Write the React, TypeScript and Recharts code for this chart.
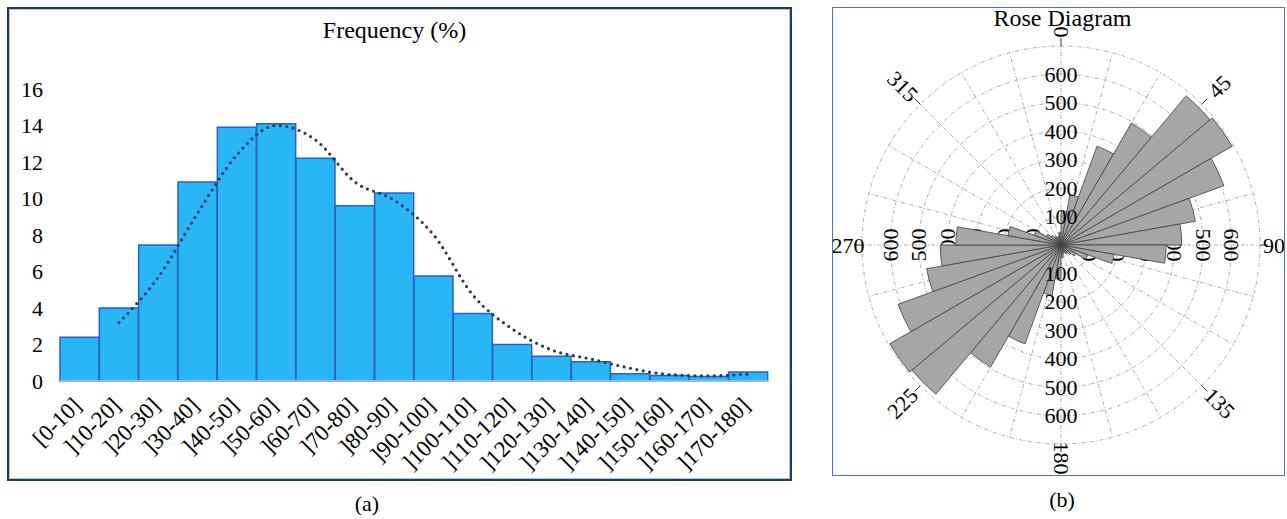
import React from "react";
import {
  ComposedChart,
  Bar,
  Line,
  XAxis,
  YAxis,
  RadialBarChart,
  RadialBar,
  PolarGrid,
  PolarAngleAxis,
  PolarRadiusAxis,
} from "recharts";

const FONT = '"Liberation Serif", "Times New Roman", Times, serif';

// ---- (a) frequency histogram ----
const classes = [
  "[0-10]", "]10-20]", "]20-30]", "]30-40]", "]40-50]", "]50-60]",
  "]60-70]", "]70-80]", "]80-90]", "]90-100]", "]100-110]", "]110-120]",
  "]120-130]", "]130-140]", "]140-150]", "]150-160]", "]160-170]", "]170-180]",
];
const frequency = [2.4, 4.0, 7.45, 10.9, 13.9, 14.1, 12.2, 9.6, 10.3, 5.75, 3.7, 2.0, 1.35, 1.05, 0.4, 0.3, 0.25, 0.5];
// dotted trend (2-period moving average)
const trend = [null, 3.2, 5.7, 9.2, 12.4, 14.0, 13.2, 10.9, 9.9, 8.0, 4.7, 2.85, 1.7, 1.2, 0.7, 0.35, 0.28, 0.38];
const freqTicks = [0, 2, 4, 6, 8, 10, 12, 14, 16];

// ---- (b) rose diagram, 10 degree bins ----
// recharts draws each centric petal one band counter-clockwise of its tick,
// so the list starts with the 350-360 bin to land 0-10 just right of north
const roseBins = [
  "350-360", "0-10", "10-20", "20-30", "30-40", "40-50", "50-60", "60-70", "70-80", "80-90",
  "90-100", "100-110", "110-120", "120-130", "130-140", "140-150", "150-160", "160-170", "170-180",
  "180-190", "190-200", "200-210", "210-220", "220-230", "230-240", "240-250", "250-260", "260-270",
  "270-280", "280-290", "290-300", "300-310", "310-320", "320-330", "330-340", "340-350",
];
const roseStart = [
  350, 0, 10, 20, 30, 40, 50, 60, 70, 80,
  90, 100, 110, 120, 130, 140, 150, 160, 170,
  180, 190, 200, 210, 220, 230, 240, 250, 260,
  270, 280, 290, 300, 310, 320, 330, 340,
];
const roseCounts = [
  45, 120, 180, 370, 495, 685, 695, 610, 480, 425,
  370, 190, 100, 60, 45, 35, 30, 30, 45,
  120, 180, 370, 495, 685, 695, 610, 480, 425,
  370, 190, 100, 60, 45, 35, 30, 30,
];
const radiusTicks = [0, 100, 200, 300, 400, 500, 600, 700];
const gridAngles = [0, 15, 30, 45, 60, 75, 90, 105, 120, 135, 150, 165, 180, 195, 210, 225, 240, 255, 270, 285, 300, 315, 330, 345];

const histData = classes.map((c, i) => ({ cls: c, freq: frequency[i], trend: trend[i] }));
const roseData = roseBins.map((b, i) => ({ bin: b, start: roseStart[i], count: roseCounts[i] }));

const ROSE_W = 451;
const ROSE_H = 467;
const ROSE_CX = 228;
const ROSE_CY = 237;
const ROSE_R = 199;

function ClassTick(props: any) {
  const { x, y, payload } = props;
  const tx = x + 3;
  const ty = y + 18;
  return (
    <text
      x={tx}
      y={ty}
      textAnchor="end"
      transform={`rotate(-45 ${tx} ${ty})`}
      fontSize={23}
      fontFamily={FONT}
      fill="#000"
    >
      {payload.value}
    </text>
  );
}

function FreqTick(props: any) {
  const { x, y, payload } = props;
  return (
    <text x={x} y={y} dy="0.35em" textAnchor="end" fontSize={22} fontFamily={FONT} fill="#000">
      {payload.value}
    </text>
  );
}

function AngleTick(props: any) {
  const { x, y, payload } = props;
  const v = payload.value as number;
  if (v % 45 !== 0) return <g />;
  const a = (payload.coordinate * Math.PI) / 180;
  const ux = Math.cos(a);
  const uy = -Math.sin(a);
  const k = v % 90 === 0 ? 6 : 17;
  const lx = x + ux * k;
  const ly = y + uy * k;
  let rot = (v + 90) % 180;
  if (rot > 90) rot -= 180;
  return (
    <g>
      <line x1={x - ux * 8} y1={y - uy * 8} x2={x} y2={y} stroke="#333" strokeWidth={1} />
      <text
        x={lx}
        y={ly}
        textAnchor="middle"
        dominantBaseline="central"
        transform={`rotate(${rot} ${lx} ${ly})`}
        fontSize={22}
        fontFamily={FONT}
        fill="#000"
      >
        {v}
      </text>
    </g>
  );
}

// ring labels along 0 / 180 (drawn over the petals)
function RadiusTickV(props: any) {
  const { x, y, payload } = props;
  const v = payload.value as number;
  if (v === 0 || v === 700) return <g />;
  const r = payload.coordinate;
  const yd = y + 2 * r;
  return (
    <g fontSize={22} fontFamily={FONT} fill="#000">
      <text x={x} y={y} textAnchor="middle" dominantBaseline="central">{v}</text>
      <text x={x} y={yd} textAnchor="middle" dominantBaseline="central">{v}</text>
    </g>
  );
}

// ring labels along 90 / 270 (under the petals)
function RadiusTickH(props: any) {
  const { x, y, payload } = props;
  const v = payload.value as number;
  if (v === 0 || v === 700) return <g />;
  const r = payload.coordinate;
  const xl = x - 2 * r;
  return (
    <g fontSize={22} fontFamily={FONT} fill="#000">
      <text x={x} y={y} textAnchor="middle" dominantBaseline="central" transform={`rotate(90 ${x} ${y})`}>{v}</text>
      <text x={xl} y={y} textAnchor="middle" dominantBaseline="central" transform={`rotate(-90 ${xl} ${y})`}>{v}</text>
    </g>
  );
}

export default function App() {
  return (
    <div style={{ position: "absolute", left: 0, top: 0, width: 1287, height: 519, background: "#fff", fontFamily: FONT }}>
      {/* panel (a) */}
      <div
        style={{
          position: "absolute",
          left: 7,
          top: 7,
          width: 781,
          height: 470,
          border: "2px solid #1f3864",
          boxShadow: "inset 0 0 0 1px #b4c6e7",
        }}
      />
      <div style={{ position: "absolute", left: 4, top: 17, width: 781, textAlign: "center", fontSize: 24 }}>
        Frequency (%)
      </div>
      <div style={{ position: "absolute", left: 9, top: 9 }}>
        <ComposedChart
          width={781}
          height={470}
          data={histData}
          margin={{ top: 80, right: 22, left: 0, bottom: 0 }}
          barCategoryGap={0}
          barGap={0}
        >
          <XAxis
            dataKey="cls"
            interval={0}
            height={98}
            tickLine={false}
            axisLine={{ stroke: "#b4c7e7", strokeWidth: 1.5 }}
            tick={<ClassTick />}
          />
          <YAxis
            domain={[0, 16]}
            ticks={freqTicks}
            width={51}
            axisLine={false}
            tickLine={false}
            tickMargin={11}
            tick={<FreqTick />}
          />
          <Bar dataKey="freq" fill="#29b6f6" stroke="#2e5fc4" strokeWidth={1.5} isAnimationActive={false} />
          <Line
            type="monotone"
            dataKey="trend"
            stroke="#1f3864"
            strokeWidth={3.2}
            strokeDasharray="0 6.5"
            strokeLinecap="round"
            dot={false}
            activeDot={false}
            connectNulls
            isAnimationActive={false}
          />
        </ComposedChart>
      </div>
      <div style={{ position: "absolute", left: 317, top: 491, width: 100, textAlign: "center", fontSize: 22 }}>(a)</div>

      {/* panel (b) */}
      <div
        style={{
          position: "absolute",
          left: 832,
          top: 7,
          width: ROSE_W,
          height: ROSE_H,
          border: "1px solid #4f74c2",
        }}
      />
      <div style={{ position: "absolute", left: 837, top: 5, width: ROSE_W, textAlign: "center", fontSize: 24 }}>
        Rose Diagram
      </div>
      <div style={{ position: "absolute", left: 833, top: 8 }}>
        <RadialBarChart
          width={ROSE_W}
          height={ROSE_H}
          data={roseData}
          layout="centric"
          cx={ROSE_CX}
          cy={ROSE_CY}
          innerRadius={0}
          outerRadius={ROSE_R}
          startAngle={90}
          endAngle={-270}
          barCategoryGap={0}
          barGap={0}
          margin={{ top: 0, right: 0, bottom: 0, left: 0 }}
        >
          <PolarGrid
            gridType="circle"
            angleAxisId="deg"
            radiusAxisId={0}
            stroke="#8a8a8a"
            strokeWidth={0.7}
            strokeDasharray="4 2 1 2"
          />
          <PolarAngleAxis angleAxisId={0} dataKey="bin" type="category" tick={false} axisLine={false} tickLine={false} />
          <PolarAngleAxis
            angleAxisId="deg"
            dataKey="start"
            type="number"
            domain={[0, 360]}
            allowDataOverflow
            ticks={gridAngles}
            axisLine={false}
            tickLine={false}
            tick={AngleTick}
          />
          <PolarRadiusAxis
            radiusAxisId={0}
            angle={0}
            type="number"
            domain={[0, 700]}
            allowDataOverflow
            ticks={radiusTicks}
            axisLine={false}
            tick={RadiusTickH}
            zIndex={250}
          />
          <PolarRadiusAxis
            radiusAxisId={0}
            angle={90}
            type="number"
            domain={[0, 700]}
            allowDataOverflow
            ticks={radiusTicks}
            axisLine={false}
            tick={RadiusTickV}
          />
          <RadialBar
            dataKey="count"
            angleAxisId={0}
            radiusAxisId={0}
            fill="#a6a6a6"
            stroke="#3f3f3f"
            strokeWidth={0.8}
            isAnimationActive={false}
          />
        </RadialBarChart>
      </div>
      <div style={{ position: "absolute", left: 1012, top: 487, width: 100, textAlign: "center", fontSize: 22 }}>(b)</div>
    </div>
  );
}
